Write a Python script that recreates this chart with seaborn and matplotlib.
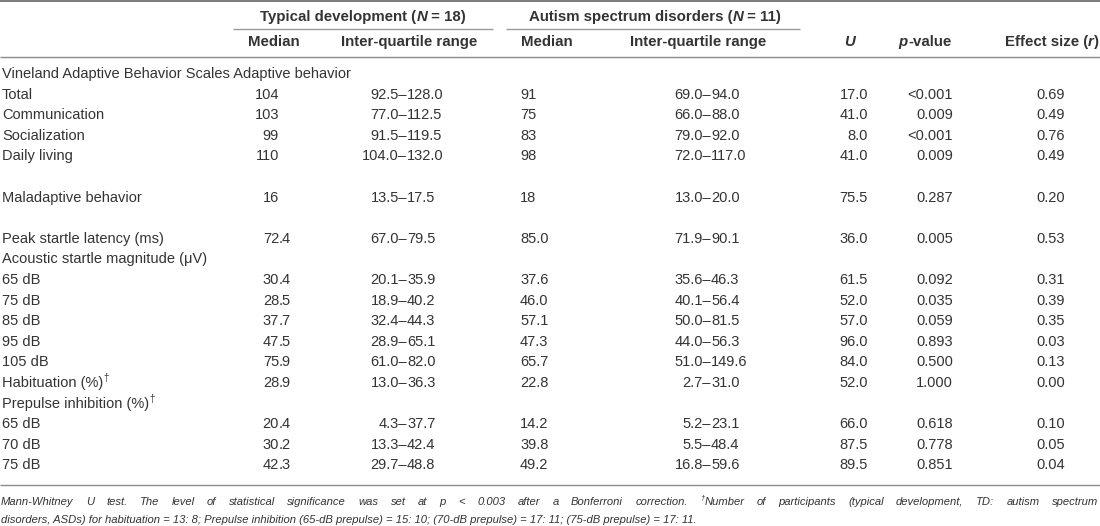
import matplotlib
matplotlib.use('Agg')
from matplotlib import pyplot as plt
import seaborn as sns
import pandas as pd

# ---- table content -------------------------------------------------------
row_labels = ["Vineland Adaptive Behavior Scales Adaptive behavior", "Total", "Communication",
              "Socialization", "Daily living", "", "Maladaptive behavior", "",
              "Peak startle latency (ms)", "Acoustic startle magnitude (\u03bcV)",
              "65 dB", "75 dB", "85 dB", "95 dB", "105 dB", "Habituation (%)",
              "Prepulse inhibition (%)", "65 dB", "70 dB", "75 dB"]
dagger_rows = ["Habituation (%)", "Prepulse inhibition (%)"]

td_median = [None, "104", "103", "99", "110", None, "16", None, "72.4", None,
             "30.4", "28.5", "37.7", "47.5", "75.9", "28.9", None, "20.4", "30.2", "42.3"]
td_iqr = [None, "92.5\u2013128.0", "77.0\u2013112.5", "91.5\u2013119.5", "104.0\u2013132.0", None,
          "13.5\u201317.5", None, "67.0\u201379.5", None, "20.1\u201335.9", "18.9\u201340.2",
          "32.4\u201344.3", "28.9\u201365.1", "61.0\u201382.0", "13.0\u201336.3", None,
          "4.3\u201337.7", "13.3\u201342.4", "29.7\u201348.8"]
asd_median = [None, "91", "75", "83", "98", None, "18", None, "85.0", None,
              "37.6", "46.0", "57.1", "47.3", "65.7", "22.8", None, "14.2", "39.8", "49.2"]
asd_iqr = [None, "69.0\u201394.0", "66.0\u201388.0", "79.0\u201392.0", "72.0\u2013117.0", None,
           "13.0\u201320.0", None, "71.9\u201390.1", None, "35.6\u201346.3", "40.1\u201356.4",
           "50.0\u201381.5", "44.0\u201356.3", "51.0\u2013149.6", "2.7\u201331.0", None,
           "5.2\u201323.1", "5.5\u201348.4", "16.8\u201359.6"]
u_stat = [None, "17.0", "41.0", "8.0", "41.0", None, "75.5", None, "36.0", None,
          "61.5", "52.0", "57.0", "96.0", "84.0", "52.0", None, "66.0", "87.5", "89.5"]
p_value = [None, "<0.001", "0.009", "<0.001", "0.009", None, "0.287", None, "0.005", None,
           "0.092", "0.035", "0.059", "0.893", "0.500", "1.000", None, "0.618", "0.778", "0.851"]
effect_r = [None, "0.69", "0.49", "0.76", "0.49", None, "0.20", None, "0.53", None,
            "0.31", "0.39", "0.35", "0.03", "0.13", "0.00", None, "0.10", "0.05", "0.04"]

footnote_1 = ("Mann-Whitney U test. The level of statistical significance was set at p < 0.003 "
              "after a Bonferroni correction. \u2020Number of participants (typical development, "
              "TD: autism spectrum")
footnote_2 = ("disorders, ASDs) for habituation = 13: 8; Prepulse inhibition (65-dB prepulse) = 15: 10; "
              "(70-dB prepulse) = 17: 11; (75-dB prepulse) = 17: 11.")

table = pd.DataFrame({'label': row_labels, 'td_median': td_median, 'td_iqr': td_iqr,
                      'asd_median': asd_median, 'asd_iqr': asd_iqr, 'u': u_stat,
                      'p': p_value, 'r': effect_r})

sns.set_theme(style='white')
plt.rcParams['font.family'] = ['Liberation Sans', 'DejaVu Sans']
TEXT = '#333333'

fig = plt.figure(figsize=(11, 5.26), dpi=100)
ax = fig.add_axes([0, 0, 1, 1])
ax.set_xlim(0, 1100)
ax.set_ylim(526, 0)
ax.axis('off')
renderer = fig.canvas.get_renderer()


def width_of(s, **kw):
    """pixel width of a string, spaces at both ends included"""
    t1 = ax.text(0, 0, 'x' + s + 'x', **kw)
    t2 = ax.text(0, 0, 'xx', **kw)
    w = t1.get_window_extent(renderer).width - t2.get_window_extent(renderer).width
    t1.remove()
    t2.remove()
    return w


def draw_runs(x, y, runs, ha='left', size=10, weight='normal', style='normal'):
    """draw pieces of text with own styles next to each other"""
    kws = []
    for txt, opts in runs:
        kw = dict(fontsize=size * (0.68 if opts.get('sup') else 1.0),
                  fontweight=opts.get('weight', weight), fontstyle=opts.get('style', style))
        kws.append(kw)
    widths = [width_of(txt, **kw) for (txt, _), kw in zip(runs, kws)]
    total = sum(widths)
    if ha == 'center':
        x -= total / 2
    elif ha == 'right':
        x -= total
    for (txt, opts), kw, w in zip(runs, kws, widths):
        dy = -size * 0.45 if opts.get('sup') else 0
        ax.text(x, y + dy, txt, ha='left', va='center', color=TEXT, **kw)
        x += w


# font sizes fitted to the widths measured on the reference
body = 9.5 * 346 / width_of(row_labels[0], fontsize=9.5)
head = 9.5 * 206 / width_of("Typical development (N = 18)", fontsize=9.5, fontweight='bold')
foot = 8 * 705 / width_of(footnote_2, fontsize=8, fontstyle='italic')

# rules
ax.hlines(1, 0, 1100, color='#7a7a7a', lw=1.4)
ax.hlines([29, 29], [233, 506], [493, 800], color='#9a9a9a', lw=1.0)
ax.hlines(57, 0, 1100, color='#8a8a8a', lw=1.0)
ax.hlines(485, 0, 1100, color='#8a8a8a', lw=1.0)

# header
B = {'weight': 'bold'}
BI = {'weight': 'bold', 'style': 'italic'}
draw_runs(363, 17, [("Typical development (", B), ("N", BI), (" = 18)", B)], ha='center', size=head)
draw_runs(655, 17, [("Autism spectrum disorders (", B), ("N", BI), (" = 11)", B)], ha='center', size=head)
for xc, txt in [(274, "Median"), (409, "Inter-quartile range"), (547, "Median"), (698, "Inter-quartile range")]:
    draw_runs(xc, 42, [(txt, B)], ha='center', size=head)
draw_runs(850, 42, [("U", BI)], ha='center', size=head)
draw_runs(925, 42, [("p", BI), ("-value", B)], ha='center', size=head)
draw_runs(1052, 42, [("Effect size (", B), ("r", BI), (")", B)], ha='center', size=head)

# body rows
y0, dy = 74, 20.6
for i, row in table.iterrows():
    y = y0 + i * dy
    if row['label']:
        runs = [(row['label'], {})]
        if row['label'] in dagger_rows:
            runs.append(("\u2020", {'sup': True}))
        draw_runs(2, y, runs, size=body)
    if row['td_median'] is None:
        continue
    # decimal aligned median
    if '.' in row['td_median']:
        a, b = row['td_median'].split('.')
        draw_runs(279, y, [(a, {})], ha='right', size=body)
        draw_runs(279, y, [('.' + b, {})], size=body)
    else:
        draw_runs(279, y, [(row['td_median'], {})], ha='right', size=body)
    a, b = row['td_iqr'].split('\u2013')
    draw_runs(407, y, [(a + '\u2013', {})], ha='right', size=body)
    draw_runs(407, y, [(b, {})], size=body)
    draw_runs(520, y, [(row['asd_median'], {})], size=body)
    a, b = row['asd_iqr'].split('\u2013')
    draw_runs(711, y, [(a + '\u2013', {})], ha='right', size=body)
    draw_runs(711, y, [(b, {})], size=body)
    draw_runs(868, y, [(row['u'], {})], ha='right', size=body)
    draw_runs(953, y, [(row['p'], {})], ha='right', size=body)
    draw_runs(1065, y, [(row['r'], {})], ha='right', size=body)

# footnote, first line justified
words = footnote_1.split(' ')
word_runs = []
for w in words:
    if w.startswith('\u2020'):
        word_runs.append([("\u2020", {'sup': True}), (w[1:], {})])
    else:
        word_runs.append([(w, {})])
word_w = []
for wr in word_runs:
    word_w.append(sum(width_of(t, fontsize=foot * (0.68 if o.get('sup') else 1.0), fontstyle='italic')
                      for t, o in wr))
gap = (1097 - sum(word_w)) / (len(word_runs) - 1)
x = 1
for wr, w in zip(word_runs, word_w):
    draw_runs(x, 502, wr, size=foot, style='italic')
    x += w + gap
draw_runs(1, 520, [(footnote_2, {})], size=foot, style='italic')

fig.savefig('out.png', dpi=100)
